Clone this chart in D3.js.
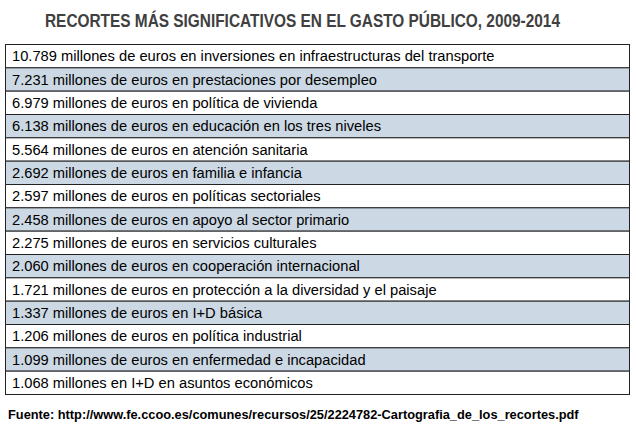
<!DOCTYPE html><html><head><meta charset="utf-8">
<script src="https://cdn.jsdelivr.net/npm/d3@7"></script>
<style>body{margin:0;background:#fff}</style></head><body><svg id="c" width="636" height="443"></svg>
<script>
const amounts=["10.789","7.231","6.979","6.138","5.564","2.692","2.597","2.458","2.275","2.060","1.721","1.337","1.206","1.099","1.068"];
const labels=["millones de euros en inversiones en infraestructuras del transporte","millones de euros en prestaciones por desempleo","millones de euros en política de vivienda","millones de euros en educación en los tres niveles","millones de euros en atención sanitaria","millones de euros en familia e infancia","millones de euros en políticas sectoriales","millones de euros en apoyo al sector primario","millones de euros en servicios culturales","millones de euros en cooperación internacional","millones de euros en protección a la diversidad y el paisaje","millones de euros en I+D básica","millones de euros en política industrial","millones de euros en enfermedad e incapacidad","millones en I+D en asuntos económicos"];
const title="RECORTES MÁS SIGNIFICATIVOS EN EL GASTO PÚBLICO, 2009-2014";
const source="Fuente: http://www.fe.ccoo.es/comunes/recursos/25/2224782-Cartografia_de_los_recortes.pdf";
const svg=d3.select("#c");
const rows=amounts.map((a,i)=>({i,text:a+" "+labels[i]}));
const y=d3.scaleBand().domain(d3.range(rows.length)).range([44.5,394.5]);
const x0=5.5,x1=629.5;
svg.append("text").attr("x",45).attr("y",27).attr("font-family","Liberation Sans Narrow, Liberation Sans").attr("font-weight","bold").attr("font-size",18).attr("fill","#404040").attr("textLength",515).attr("lengthAdjust","spacingAndGlyphs").text(title);
const g=svg.selectAll("g.r").data(rows).join("g");
g.append("rect").attr("x",x0).attr("y",d=>y(d.i)).attr("width",x1-x0).attr("height",y.bandwidth()).attr("fill",d=>d.i%2?"#ccd9e4":"#fff").attr("stroke","#222").attr("stroke-width",1);
g.append("text").attr("x",12).attr("y",d=>y(d.i)+y.bandwidth()/2+5).attr("font-family","Liberation Sans, Arial").attr("font-size",14.7).attr("fill","#000").text(d=>d.text);
svg.append("text").attr("x",8).attr("y",419).attr("font-family","Liberation Sans, Arial").attr("font-weight","bold").attr("font-size",12.8).attr("fill","#000").text(source);
</script></body></html>
